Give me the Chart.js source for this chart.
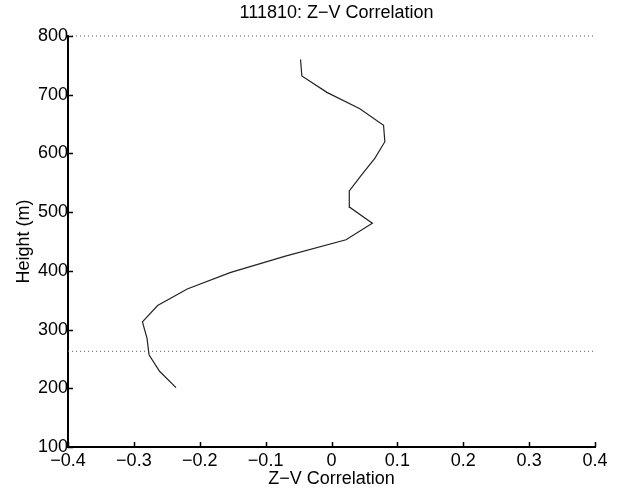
<!DOCTYPE html>
<html>
<head>
<meta charset="utf-8">
<script src="https://cdn.jsdelivr.net/npm/chart.js@4"></script>
<style>
  html, body { margin: 0; padding: 0; background: #fff; }
  #wrap { width: 618px; height: 489px; }
</style>
</head>
<body>
<div id="wrap"><canvas id="c" width="618" height="489"></canvas></div>
<script>
// Data
const heights = [201, 229, 257, 285, 313, 341, 369, 397, 425, 453, 481, 508, 536, 564, 592, 620, 648, 676, 704, 732, 760];
const correlation = [-0.236, -0.261, -0.277, -0.280, -0.287, -0.264, -0.219, -0.154, -0.070, 0.022, 0.062, 0.028, 0.027, 0.046, 0.066, 0.081, 0.079, 0.043, -0.007, -0.045, -0.047];
const refLineHeights = [800, 263];
const refLineX = [-0.4, 0.4];
const xTicks = [-0.4, -0.3, -0.2, -0.1, 0, 0.1, 0.2, 0.3, 0.4];
const yTicks = [100, 200, 300, 400, 500, 600, 700, 800];

const titleText = '111810: Z\u2212V Correlation';
const xTitle = 'Z\u2212V Correlation';
const yTitle = 'Height (m)';

const FONT = 'Liberation Sans, Arial, Helvetica, sans-serif';
const FSIZE = 18;

const curve = heights.map((h, i) => ({ x: correlation[i], y: h }));
const refSets = refLineHeights.map(h => ({
  data: refLineX.map(x => ({ x: x, y: h })),
  showLine: true,
  borderColor: '#555',
  borderWidth: 1,
  borderDash: [1, 3],
  pointRadius: 0,
  clip: 3
}));

const inwardTicks = {
  id: 'inwardTicks',
  afterDraw(chart) {
    const ctx = chart.ctx;
    const xs = chart.scales.x, ys = chart.scales.y;
    const area = chart.chartArea;
    ctx.save();
    ctx.strokeStyle = '#000';
    ctx.lineWidth = 1.5;
    ctx.beginPath();
    xTicks.forEach(v => {
      const px = Math.round(xs.getPixelForValue(v)) + 0.5;
      ctx.moveTo(px, area.bottom);
      ctx.lineTo(px, area.bottom - 5);
    });
    yTicks.forEach(v => {
      const py = Math.round(ys.getPixelForValue(v)) + 0.5;
      ctx.moveTo(area.left, py);
      ctx.lineTo(area.left + 5, py);
    });
    ctx.stroke();
    // title centred over the axes
    ctx.fillStyle = '#000';
    ctx.font = FSIZE + 'px ' + FONT;
    ctx.textAlign = 'center';
    ctx.textBaseline = 'middle';
    ctx.fillText(titleText, (area.left + area.right) / 2 + 5, 13);
    ctx.restore();
  }
};

new Chart(document.getElementById('c'), {
  type: 'scatter',
  data: {
    datasets: [
      {
        data: curve,
        showLine: true,
        borderColor: '#222',
        borderWidth: 1.2,
        pointRadius: 0,
        tension: 0
      },
      ...refSets
    ]
  },
  options: {
    responsive: false,
    devicePixelRatio: 1,
    animation: false,
    layout: { padding: { left: 14, right: 23, top: 36, bottom: 0 } },
    plugins: {
      legend: { display: false },
      tooltip: { enabled: false },
      title: { display: false }
    },
    scales: {
      x: {
        type: 'linear',
        min: -0.4,
        max: 0.4,
        afterFit(scale) { scale.height = 42; },
        afterBuildTicks(scale) { scale.ticks = xTicks.map(v => ({ value: v })); },
        ticks: {
          color: '#000',
          padding: 3,
          font: { family: FONT, size: FSIZE },
          maxRotation: 0,
          autoSkip: false,
          callback: v => (Math.abs(v) < 1e-9 ? '0' : (v < 0 ? '\u2212' + Math.abs(v).toFixed(1) : v.toFixed(1)))
        },
        grid: { display: true, drawOnChartArea: false, drawTicks: false },
        border: { display: true, color: '#000', width: 2 },
        title: {
          display: true,
          text: xTitle,
          color: '#000',
          font: { family: FONT, size: FSIZE, lineHeight: 1.1 },
          padding: 0
        }
      },
      y: {
        type: 'linear',
        min: 100,
        max: 800,
        afterFit(scale) { scale.width = 54; },
        afterBuildTicks(scale) { scale.ticks = yTicks.map(v => ({ value: v })); },
        ticks: {
          color: '#000',
          padding: 0,
          font: { family: FONT, size: FSIZE },
          autoSkip: false
        },
        grid: { display: true, drawOnChartArea: false, drawTicks: false },
        border: { display: true, color: '#000', width: 2 },
        title: {
          display: true,
          text: yTitle,
          color: '#000',
          font: { family: FONT, size: FSIZE, lineHeight: 1.1 },
          padding: 0
        }
      }
    }
  },
  plugins: [inwardTicks]
});
</script>
</body>
</html>
